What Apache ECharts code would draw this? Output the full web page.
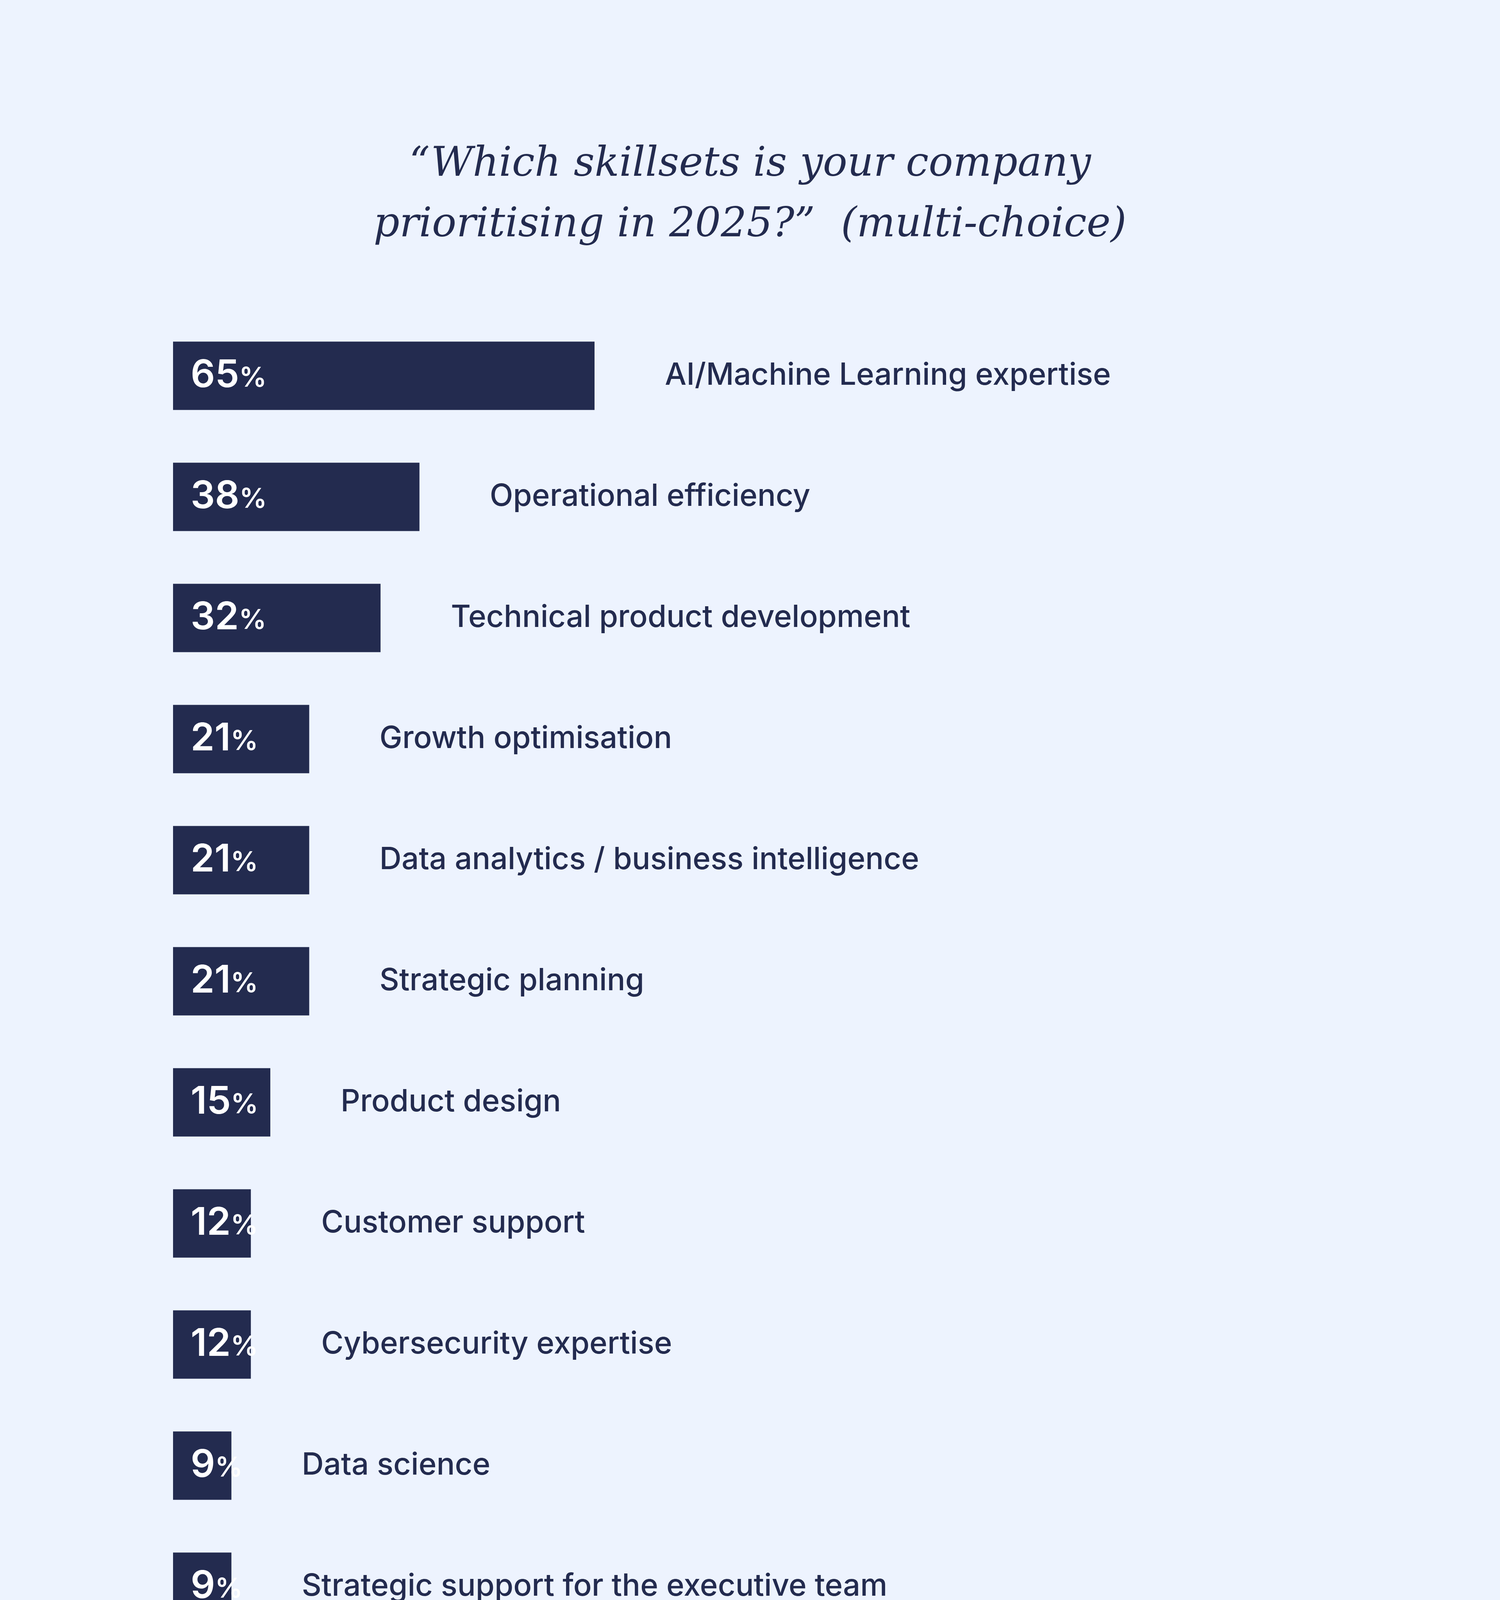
<!DOCTYPE html>
<html><head><meta charset="utf-8">
<script src="https://cdn.jsdelivr.net/npm/echarts@6/dist/echarts.min.js"></script>
<style>html,body{margin:0;padding:0;background:#EDF3FE;overflow:hidden}#c{width:3840px;height:4725px}</style>
</head><body><div id="c"></div>
<script>
const categories = ["AI/Machine Learning expertise","Operational efficiency","Technical product development","Growth optimisation","Data analytics / business intelligence","Strategic planning","Product design","Customer support","Cybersecurity expertise","Data science","Strategic support for the executive team","Software engineering"];
const values = [65,38,32,21,21,21,15,12,12,9,9,5];
const titleText = "\u201cWhich skillsets is your company\nprioritising in 2025?\u201d  (multi-choice)";
const navy = "#232B4F";
const chart = echarts.init(document.getElementById('c'), null, {renderer:'canvas'});
const valueRich = {n:{fontFamily:'Inter',fontWeight:600,fontSize:98,color:'#fff'},p:{fontFamily:'Inter',fontWeight:600,fontSize:70,color:'#fff',padding:[14,0,0,0]}};
const valueRichDark = {n:{fontFamily:'Inter',fontWeight:500,fontSize:98,color:navy},p:{fontFamily:'Inter',fontWeight:500,fontSize:70,color:navy,padding:[14,0,0,0]}};
chart.setOption({
  backgroundColor:'#EDF3FE',
  animation:false,
  title:{text:titleText,left:'center',top:340,textStyle:{fontFamily:'DejaVu Serif',fontStyle:'italic',fontWeight:'normal',fontSize:104,color:navy,lineHeight:155}},
  graphic:[
    {type:'text',right:110,top:4370,style:{text:'ravio',font:'italic 900 150px Inter',fill:'#1b1f2e'}},
    {type:'text',right:110,top:4585,style:{text:'Ravio survey | 2025',font:'400 68px Inter',fill:'#444'}}
  ],
  grid:{left:443,top:807,width:1660,height:3720},
  xAxis:{type:'value',min:0,max:100,show:false},
  yAxis:{type:'category',data:categories,inverse:true,show:false},
  series:[
    {type:'bar',barWidth:175,itemStyle:{color:navy},
     data:values.map(v=>v<8?{value:v,label:{position:'right',distance:30,rich:valueRichDark}}:v),
     label:{show:true,position:'insideLeft',distance:45,formatter:p=>'{n|'+p.value+'}{p|%}',rich:valueRich}},
    {type:'bar',barWidth:175,barGap:'-100%',itemStyle:{color:'transparent'},
     data:values.map(v=>v<8?{value:v,label:{distance:222}}:v),
     label:{show:true,position:'right',distance:180,formatter:p=>categories[p.dataIndex],fontFamily:'Inter',fontWeight:500,fontSize:78,color:navy}}
  ]
});
</script></body></html>
